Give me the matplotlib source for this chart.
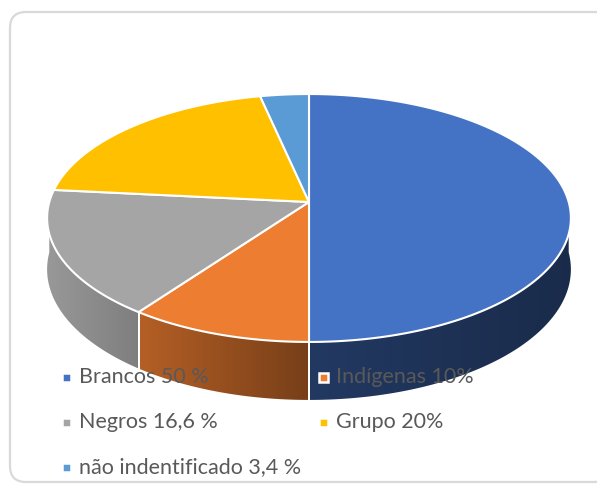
import numpy as np
import matplotlib
matplotlib.use("Agg")
import matplotlib.pyplot as plt
from matplotlib.patches import Polygon, FancyBboxPatch, Rectangle

# data
labels = ["Brancos 50 %", "Indígenas 10%", "Negros 16,6 %", "Grupo 20%", "não indentificado 3,4 %"]
values = [50, 10, 16.6, 20, 3.4]
colors = ["#4472C4", "#ED7D31", "#A5A5A5", "#FFC000", "#5B9BD5"]

# pie geometry in pixels (pseudo 3D with a bit of perspective)
CX, CY = 309, 202
A, B = 259.7, 121.9
K = 0.129      # perspective strength
H = 50.5       # thickness

plt.rcParams['font.family'] = ['Lato', 'DejaVu Sans']

fig = plt.figure(figsize=(5.97, 4.92), dpi=100)
ax = fig.add_axes([0, 0, 1, 1])
ax.set_xlim(0, 597)
ax.set_ylim(492, 0)
ax.axis("off")

# rounded frame
frame = FancyBboxPatch((10, 12), 600, 470, boxstyle="round,pad=0,rounding_size=16",
                       fc="white", ec="#D9D9D9", lw=1.6, zorder=0)
ax.add_patch(frame)


def proj(t, h=0.0):
    d = -np.cos(t)
    den = 1 - K * d
    return CX + A * np.sin(t) / den, CY + (B * d + h) / den


def shade(hex_color, s):
    # darker to the right, like Excel's lighting on the rim
    m = np.interp(s, [-1, -0.6, 0, 1], [0.92, 0.74, 0.50, 0.38])
    rgb = np.array(matplotlib.colors.to_rgb(hex_color))
    return np.clip(rgb[None, :] * m[:, None], 0, 1)


bounds = np.concatenate([[0], np.cumsum(values)]) / sum(values) * 2 * np.pi

# side walls (only the front half is visible), filled with a gradient
for i, c in enumerate(colors):
    t0 = max(bounds[i], np.pi / 2)
    t1 = min(bounds[i + 1], 3 * np.pi / 2)
    if t1 <= t0:
        continue
    ts = np.linspace(t0, t1, 200)
    xt, yt = proj(ts)
    xb, yb = proj(ts[::-1], H)
    poly = Polygon(np.column_stack([np.r_[xt, xb], np.r_[yt, yb]]), closed=True,
                   fc="none", ec="none", zorder=1)
    ax.add_patch(poly)
    x0, x1 = xt.min() - 2, xt.max() + 2
    gx = np.linspace(x0, x1, 300)
    img = shade(c, np.clip((gx - CX) / A, -1, 1))[None, :, :]
    im = ax.imshow(img, extent=[x0, x1, yb.max() + 2, yt.min() - 2],
                   aspect="auto", interpolation="bilinear", zorder=1)
    im.set_clip_path(poly)
    # white separators on the wall
    for t in (bounds[i], bounds[i + 1]):
        if np.pi / 2 < t < 3 * np.pi / 2:
            xa, ya = proj(t)
            xc, yc = proj(t, H)
            ax.plot([xa, xc], [ya, yc], color="white", lw=1.4, zorder=2)

ax.set_xlim(0, 597)
ax.set_ylim(492, 0)

# top faces
for i, c in enumerate(colors):
    ts = np.linspace(bounds[i], bounds[i + 1], 200)
    xs, ys = proj(ts)
    pts = np.column_stack([np.r_[CX, xs], np.r_[CY, ys]])
    ax.add_patch(Polygon(pts, closed=True, fc=c, ec="white", lw=1.5,
                         joinstyle="round", zorder=3))

# legend, laid out in rows like Excel
col_x = [66, 323]
row_y = [377, 422, 467]
for i, (lab, c) in enumerate(zip(labels, colors)):
    x = col_x[i % 2]
    y = row_y[i // 2]
    ax.add_patch(Rectangle((x - 4.5, y - 4.5), 9, 9, fc=c, ec="white", lw=1.8, zorder=5))
    ax.text(x + 13, y, lab, fontsize=15.5, color="#595959", va="center", ha="left", zorder=6)

fig.savefig("out.png", dpi=100)
